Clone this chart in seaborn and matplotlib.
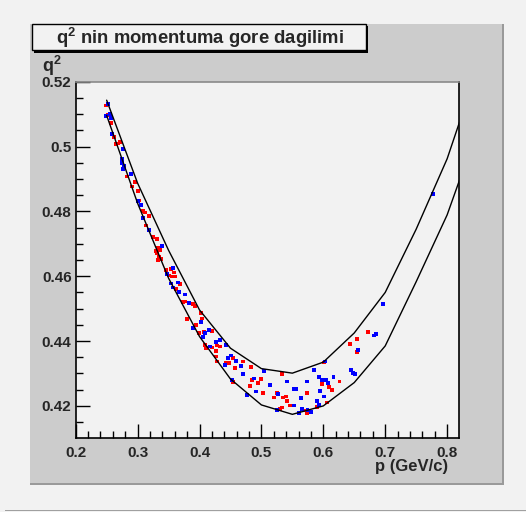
import pandas as pd
import matplotlib.pyplot as plt
import seaborn as sns
from matplotlib.patches import Rectangle
from matplotlib.ticker import MultipleLocator, FuncFormatter

# scatter points: red and blue samples
red_p = [0.2494, 0.2527, 0.2570, 0.2624, 0.2656, 0.2688, 0.2716, 0.2824, 0.2958, 0.2905,
         0.3002, 0.3027, 0.3092, 0.3120, 0.3179, 0.3136, 0.3254, 0.3318, 0.3334, 0.3362,
         0.3292, 0.3318, 0.3351, 0.3373, 0.3334, 0.3535, 0.3459, 0.3588, 0.3512, 0.3551,
         0.3604, 0.3685, 0.3620, 0.3738, 0.3900, 0.3766, 0.3927, 0.4019, 0.3803, 0.4036,
         0.3939, 0.4073, 0.3997, 0.4207, 0.4288, 0.4197, 0.4331, 0.4089, 0.4105, 0.4267,
         0.4267, 0.4536, 0.4278, 0.4428, 0.4481, 0.4708, 0.4574, 0.4827, 0.4843, 0.4994,
         0.4536, 0.4940, 0.4816, 0.5021, 0.5247, 0.5208, 0.6722, 0.6549, 0.6431, 0.6549,
         0.6011, 0.5333, 0.6259, 0.5974, 0.6097, 0.6136, 0.5732, 0.5393, 0.5354, 0.5409,
         0.6065, 0.5462, 0.5328, 0.5903, 0.5301, 0.5688, 0.5732]
red_q2 = [0.5127, 0.5098, 0.5073, 0.5029, 0.5007, 0.5009, 0.5014, 0.4908, 0.4891, 0.4877,
          0.4862, 0.4834, 0.4801, 0.4797, 0.4786, 0.4756, 0.4722, 0.4715, 0.4688, 0.4681,
          0.4678, 0.4671, 0.4660, 0.4653, 0.4650, 0.4622, 0.4619, 0.4611, 0.4602, 0.4599,
          0.4599, 0.4575, 0.4560, 0.4520, 0.4514, 0.4522, 0.4508, 0.4486, 0.4468, 0.4470,
          0.4450, 0.4427, 0.4424, 0.4432, 0.4386, 0.4380, 0.4383, 0.4388, 0.4378, 0.4370,
          0.4352, 0.4347, 0.4337, 0.4332, 0.4332, 0.4337, 0.4316, 0.4321, 0.4280, 0.4283,
          0.4273, 0.4270, 0.4262, 0.4239, 0.4239, 0.4226, 0.4427, 0.4406, 0.4390, 0.4367,
          0.4334, 0.4299, 0.4275, 0.4267, 0.4259, 0.4249, 0.4239, 0.4229, 0.4226, 0.4215,
          0.4210, 0.4201, 0.4195, 0.4196, 0.4190, 0.4186, 0.4179]

blue_p = [0.2517, 0.2490, 0.2554, 0.2570, 0.2591, 0.2769, 0.2743, 0.2753, 0.2785, 0.2769,
          0.2893, 0.3011, 0.3055, 0.3082, 0.3184, 0.3389, 0.3577, 0.3470, 0.3540, 0.3658,
          0.3577, 0.3674, 0.3766, 0.3835, 0.4019, 0.3900, 0.4089, 0.4158, 0.4052, 0.4267,
          0.4331, 0.4170, 0.4428, 0.4504, 0.4456, 0.4412, 0.4590, 0.4670, 0.5047, 0.4698,
          0.4880, 0.4520, 0.5139, 0.4913, 0.4763, 0.5273, 0.5247, 0.6819, 0.6851, 0.6565,
          0.6027, 0.5855, 0.6443, 0.6475, 0.6507, 0.5935, 0.6162, 0.5974, 0.6044, 0.5409,
          0.5732, 0.6071, 0.5531, 0.5559, 0.5947, 0.6016, 0.5640, 0.5893, 0.5935, 0.5527,
          0.5661, 0.5742, 0.5612, 0.5796, 0.7777, 0.6969]
blue_q2 = [0.5132, 0.5094, 0.5101, 0.5088, 0.5038, 0.4992, 0.4961, 0.4950, 0.4940, 0.4930,
           0.4916, 0.4831, 0.4820, 0.4779, 0.4742, 0.4694, 0.4626, 0.4606, 0.4578, 0.4581,
           0.4565, 0.4552, 0.4544, 0.4517, 0.4458, 0.4441, 0.4424, 0.4434, 0.4412, 0.4398,
           0.4404, 0.4383, 0.4388, 0.4355, 0.4347, 0.4326, 0.4339, 0.4324, 0.4308, 0.4298,
           0.4285, 0.4280, 0.4265, 0.4244, 0.4234, 0.4237, 0.4188, 0.4417, 0.4421, 0.4373,
           0.4337, 0.4311, 0.4311, 0.4301, 0.4299, 0.4289, 0.4290, 0.4280, 0.4280, 0.4275,
           0.4275, 0.4270, 0.4252, 0.4252, 0.4247, 0.4229, 0.4224, 0.4216, 0.4203, 0.4201,
           0.4190, 0.4188, 0.4179, 0.4182, 0.4853, 0.4514]

# envelope curves
curve_p = [0.25, 0.30, 0.35, 0.40, 0.45, 0.50, 0.55, 0.60, 0.65, 0.70, 0.75, 0.80, 0.85]
upper_q2 = [0.5143, 0.4887, 0.4680, 0.4496, 0.4378, 0.4315, 0.4301, 0.4335, 0.4425,
            0.4550, 0.4745, 0.4962, 0.5245]
lower_q2 = [0.5096, 0.4825, 0.4594, 0.4414, 0.4283, 0.4203, 0.4174, 0.4200, 0.4272,
            0.4385, 0.4583, 0.4789, 0.5057]

W, H = 526, 512
BG = "#f2f2f2"
PAD = "#cccccc"


def fx(px):
    return px / W


def fy(py):
    return 1 - py / H


def fig_rect(fig, x0, y0, x1, y1, **kw):
    # rectangle given in pixel coords (top-left origin)
    r = Rectangle((fx(x0), fy(y1)), (x1 - x0) / W, (y1 - y0) / H,
                  transform=fig.transFigure, **kw)
    fig.add_artist(r)
    return r


def main():
    sns.set_theme(style="ticks")
    plt.rcParams["font.family"] = ["Liberation Sans", "DejaVu Sans"]
    plt.rcParams["font.weight"] = "bold"
    plt.rcParams["mathtext.fontset"] = "custom"
    plt.rcParams["mathtext.rm"] = "Liberation Sans:bold"
    plt.rcParams["mathtext.it"] = "Liberation Sans:bold"
    plt.rcParams["mathtext.bf"] = "Liberation Sans:bold"

    fig = plt.figure(figsize=(W / 100, H / 100), dpi=100, facecolor=BG)

    # canvas bottom edge and pad with bevel, kept behind the axes
    fig_rect(fig, 5, 509.5, 526, 511, facecolor="#a0a0a0", edgecolor="none", zorder=-3)
    fig_rect(fig, 30, 24, 504, 485, facecolor="#9a9a9a", edgecolor="none", zorder=-2)
    fig_rect(fig, 30, 24, 502, 483, facecolor=PAD, edgecolor="none", zorder=-1)

    ax = fig.add_axes([fx(75.7), fy(438), (459 - 75.7) / W, (438 - 81.7) / H])
    ax.set_facecolor(BG)

    red = pd.DataFrame({"p": red_p, "q2": red_q2, "set": "red"})
    blue = pd.DataFrame({"p": blue_p, "q2": blue_q2, "set": "blue"})
    pts = pd.concat([red, blue], ignore_index=True)

    curves = pd.concat([
        pd.DataFrame({"p": curve_p, "q2": upper_q2, "edge": "upper"}),
        pd.DataFrame({"p": curve_p, "q2": lower_q2, "edge": "lower"}),
    ], ignore_index=True)

    sns.lineplot(data=curves, x="p", y="q2", units="edge", estimator=None, sort=False,
                 color="black", linewidth=1.0, ax=ax, legend=False)
    sns.scatterplot(data=pts, x="p", y="q2", hue="set",
                    palette={"red": "#ff0000", "blue": "#0000ff"},
                    marker="s", s=7, linewidth=0, ax=ax, legend=False)

    ax.set_xlim(0.2, 0.8192)
    ax.set_ylim(0.4101, 0.52)
    ax.xaxis.set_major_locator(MultipleLocator(0.1))
    ax.xaxis.set_minor_locator(MultipleLocator(0.02))
    ax.yaxis.set_major_locator(MultipleLocator(0.02))
    ax.yaxis.set_minor_locator(MultipleLocator(0.005))
    fmt = FuncFormatter(lambda v, _: "%g" % round(v, 4))
    ax.xaxis.set_major_formatter(fmt)
    ax.yaxis.set_major_formatter(fmt)
    ax.tick_params(which="major", direction="in", length=10, width=1, color="black",
                   labelsize=11, top=False, right=False)
    ax.tick_params(which="minor", direction="in", length=5, width=1, color="black",
                   top=False, right=False)
    ax.tick_params(axis="x", pad=6)
    ax.tick_params(axis="y", pad=3)
    for lab in ax.get_xticklabels() + ax.get_yticklabels():
        lab.set_fontweight("bold")
    ax.set_xlabel("")
    ax.set_ylabel("")
    for side in ["left", "bottom", "right"]:
        ax.spines[side].set_color("black")
        ax.spines[side].set_linewidth(1.2)
    ax.spines["top"].set_color("#8a8a8a")
    ax.spines["top"].set_linewidth(1.2)

    # axis titles
    fig.text(fx(448), fy(467), "p (GeV/c)", ha="right", va="center",
             fontsize=12, fontweight="bold")
    fig.text(fx(42), fy(66), r"q$^{2}$", ha="left", va="center",
             fontsize=13, fontweight="bold")

    # title box with shadow
    fig_rect(fig, 34, 26, 368, 53, facecolor="black", edgecolor="none", zorder=5)
    fig_rect(fig, 32, 24, 366, 50, facecolor=BG, edgecolor="black", linewidth=1, zorder=6)
    fig.text(fx(200), fy(37.5), r"q$^{2}$ nin momentuma gore dagilimi", ha="center",
             va="center", fontsize=13.3, fontweight="bold", zorder=7)

    fig.savefig("out.png", dpi=100, facecolor=BG)


if __name__ == "__main__":
    main()
